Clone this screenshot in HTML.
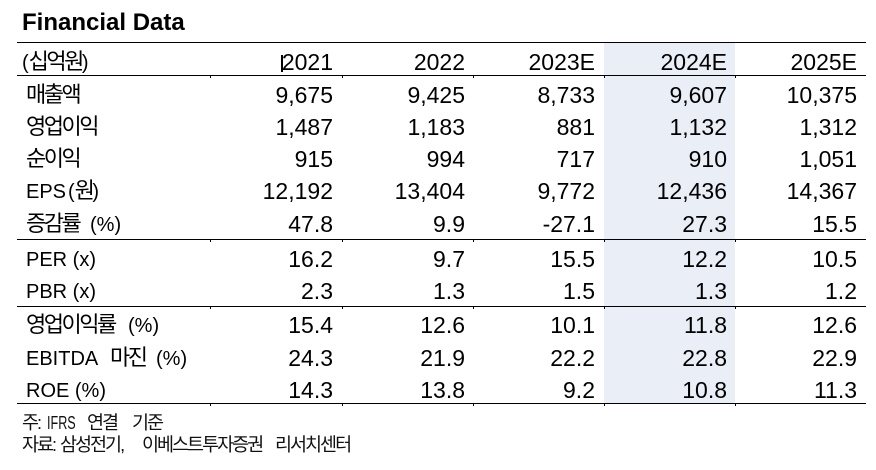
<!DOCTYPE html>
<html><head><meta charset="utf-8">
<style>
html,body{margin:0;padding:0;background:#fff;}
body{width:876px;height:470px;position:relative;overflow:hidden;font-family:"Liberation Sans","Noto Sans CJK KR",sans-serif;color:#000;}
.abs{position:absolute;}
.title{left:22px;top:11px;font-weight:bold;font-size:24px;line-height:24px;white-space:nowrap;}
.hl{left:604px;top:43px;width:131px;height:360px;background:#E9EEF7;}
.line{left:17px;width:849px;height:1.4px;background:#000;}
.tick{width:1px;height:3px;background:#000;}
.r{position:absolute;left:0;width:876px;height:23px;}
.r div{position:absolute;top:0;white-space:nowrap;}
.r div.l{left:26px;font-size:20px;line-height:23px;top:1px;}
.k{font-family:"Noto Sans CJK KR",sans-serif;font-size:22px;letter-spacing:-2.5px;line-height:0;}
.c{font-size:23px;line-height:23px;text-align:right;}
.c1{right:543px;}.c2{right:411px;}.c3{right:281px;}.c4{right:149px;}.c5{right:19px;}
.fn{font-size:18px;line-height:20px;white-space:nowrap;color:#111;}
.fk{font-family:"Noto Sans CJK KR",sans-serif;font-size:18.5px;letter-spacing:-2px;line-height:0;}
.sx{display:inline-block;transform:scaleX(0.7);transform-origin:left bottom;line-height:20px;}
.cursor{left:281px;top:55px;width:1.5px;height:17px;background:#000;}
</style></head><body>
<div class="abs title">Financial Data</div>
<div class="abs hl"></div>

<div class="abs line" style="top:42px"></div>
<div class="abs line" style="top:75px"></div>
<div class="abs line" style="top:239px"></div>
<div class="abs line" style="top:306px"></div>
<div class="abs line" style="top:403px"></div>

<div class="abs tick" style="left:210px;top:75px"></div>
<div class="abs tick" style="left:342px;top:75px"></div>
<div class="abs tick" style="left:473px;top:75px"></div>
<div class="abs tick" style="left:604px;top:75px"></div>
<div class="abs tick" style="left:735px;top:75px"></div>
<div class="abs tick" style="left:210px;top:239px"></div>
<div class="abs tick" style="left:342px;top:239px"></div>
<div class="abs tick" style="left:473px;top:239px"></div>
<div class="abs tick" style="left:604px;top:239px"></div>
<div class="abs tick" style="left:735px;top:239px"></div>
<div class="abs tick" style="left:210px;top:306px"></div>
<div class="abs tick" style="left:342px;top:306px"></div>
<div class="abs tick" style="left:473px;top:306px"></div>
<div class="abs tick" style="left:604px;top:306px"></div>
<div class="abs tick" style="left:735px;top:306px"></div>
<div class="abs tick" style="left:210px;top:403px"></div>
<div class="abs tick" style="left:342px;top:403px"></div>
<div class="abs tick" style="left:473px;top:403px"></div>
<div class="abs tick" style="left:604px;top:403px"></div>
<div class="abs tick" style="left:735px;top:403px"></div>

<div class="abs cursor"></div>

<div class="r" style="top:50.5px"><div class="l" style="left:22px">(<span class="k">십억원</span>)</div><div class="c c1">2021</div><div class="c c2">2022</div><div class="c c3">2023E</div><div class="c c4">2024E</div><div class="c c5">2025E</div></div>

<div class="r" style="top:83.5px"><div class="l"><span class="k">매출액</span></div><div class="c c1">9,675</div><div class="c c2">9,425</div><div class="c c3">8,733</div><div class="c c4">9,607</div><div class="c c5">10,375</div></div>
<div class="r" style="top:115.5px"><div class="l"><span class="k">영업이익</span></div><div class="c c1">1,487</div><div class="c c2">1,183</div><div class="c c3">881</div><div class="c c4">1,132</div><div class="c c5">1,312</div></div>
<div class="r" style="top:147.5px"><div class="l"><span class="k">순이익</span></div><div class="c c1">915</div><div class="c c2">994</div><div class="c c3">717</div><div class="c c4">910</div><div class="c c5">1,051</div></div>
<div class="r" style="top:179.5px"><div class="l">EPS</div><div class="l" style="left:68px">(<span class="k">원</span>)</div><div class="c c1">12,192</div><div class="c c2">13,404</div><div class="c c3">9,772</div><div class="c c4">12,436</div><div class="c c5">14,367</div></div>
<div class="r" style="top:212.5px"><div class="l"><span class="k">증감률</span></div><div class="l" style="left:90px">(%)</div><div class="c c1">47.8</div><div class="c c2">9.9</div><div class="c c3">-27.1</div><div class="c c4">27.3</div><div class="c c5">15.5</div></div>

<div class="r" style="top:247.5px"><div class="l">PER (x)</div><div class="c c1">16.2</div><div class="c c2">9.7</div><div class="c c3">15.5</div><div class="c c4">12.2</div><div class="c c5">10.5</div></div>
<div class="r" style="top:279.5px"><div class="l">PBR (x)</div><div class="c c1">2.3</div><div class="c c2">1.3</div><div class="c c3">1.5</div><div class="c c4">1.3</div><div class="c c5">1.2</div></div>

<div class="r" style="top:313.5px"><div class="l"><span class="k">영업이익률</span></div><div class="l" style="left:128px">(%)</div><div class="c c1">15.4</div><div class="c c2">12.6</div><div class="c c3">10.1</div><div class="c c4">11.8</div><div class="c c5">12.6</div></div>
<div class="r" style="top:346.5px"><div class="l">EBITDA</div><div class="l" style="left:110px"><span class="k">마진</span></div><div class="l" style="left:156px">(%)</div><div class="c c1">24.3</div><div class="c c2">21.9</div><div class="c c3">22.2</div><div class="c c4">22.8</div><div class="c c5">22.9</div></div>
<div class="r" style="top:378.5px"><div class="l">ROE (%)</div><div class="c c1">14.3</div><div class="c c2">13.8</div><div class="c c3">9.2</div><div class="c c4">10.8</div><div class="c c5">11.3</div></div>

<div class="abs fn" style="left:22px;top:413px"><span class="fk">주</span>:</div>
<div class="abs fn" style="left:47px;top:413px"><span class="sx">IFRS</span></div>
<div class="abs fn" style="left:87px;top:413px"><span class="fk">연결</span></div>
<div class="abs fn" style="left:132px;top:413px"><span class="fk">기준</span></div>

<div class="abs fn" style="left:22px;top:435px"><span class="fk">자료</span>:</div>
<div class="abs fn" style="left:60px;top:435px"><span class="fk">삼성전기</span>,</div>
<div class="abs fn" style="left:142px;top:435px"><span class="fk">이베스트투자증권</span></div>
<div class="abs fn" style="left:275px;top:435px"><span class="fk">리서치센터</span></div>
</body></html>
